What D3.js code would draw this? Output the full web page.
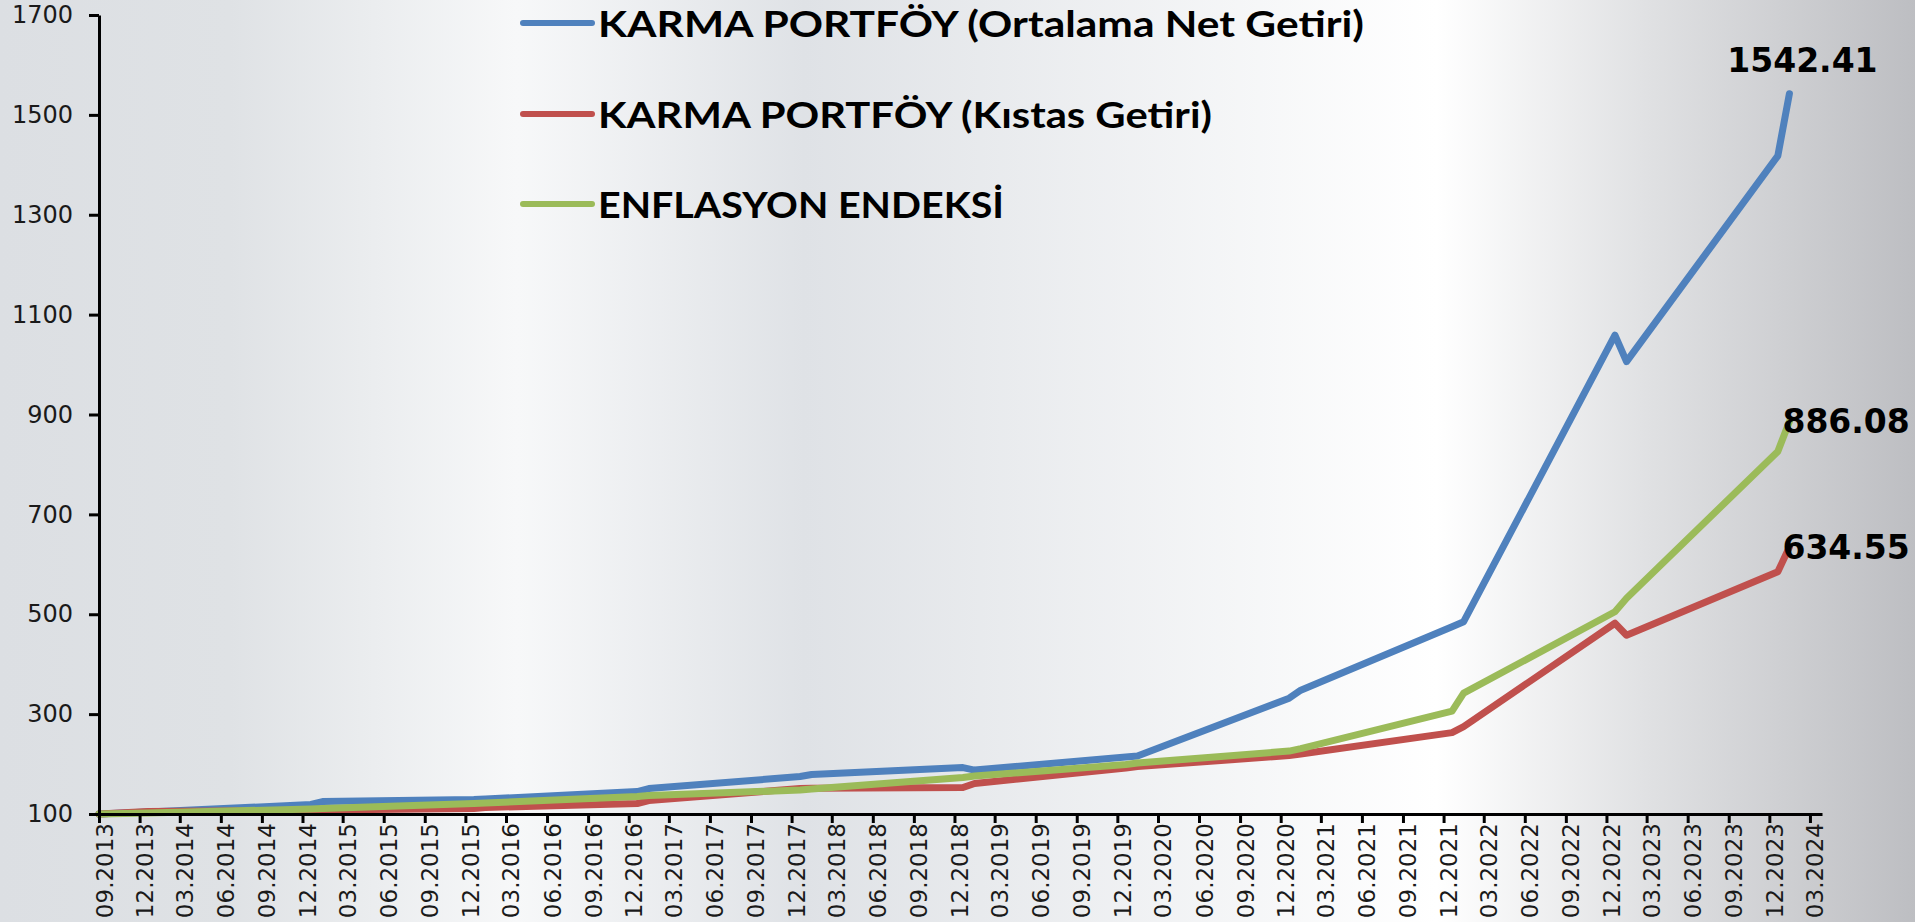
<!DOCTYPE html>
<html>
<head>
<meta charset="utf-8">
<script src="https://cdn.jsdelivr.net/npm/d3@7/dist/d3.min.js"></script>
<style>
  html, body { margin: 0; padding: 0; overflow: hidden; background: #fff; }
  svg { display: block; }
</style>
</head>
<body>
<svg width="1915" height="922"></svg>
<script>
// data
const dates = [
  "2013-09-01", "2013-12-20", "2014-12-20", "2015-01-15", "2015-12-20", "2016-01-15",
  "2016-12-20", "2017-01-15", "2017-12-20", "2018-01-15", "2018-12-20", "2019-01-15",
  "2019-12-20", "2020-01-15", "2020-12-20", "2021-01-15", "2021-12-20", "2022-01-15",
  "2022-12-20", "2023-01-15", "2023-12-20", "2024-01-15"
];
const netReturn = [100, 104, 119, 125, 129, 130, 145, 151, 175, 179, 193, 188,
                   214, 216, 332, 348, 475, 485, 1059, 1006, 1418, 1542.41];
const benchmark = [100, 105, 107, 108, 111, 113, 121, 127, 151, 151.5, 153, 161,
                   192, 195, 217, 220, 263, 275, 482, 458, 585, 634.55];
const inflation = [100, 102, 110, 111, 121, 122, 135, 137, 148, 150, 173, 176,
                   199, 202, 226, 231, 306, 342, 505, 532, 826, 886.08];
const seriesNames = [
  "KARMA PORTFÖY (Ortalama Net Getiri)",
  "KARMA PORTFÖY (Kıstas Getiri)",
  "ENFLASYON ENDEKSİ"
];
const seriesColors = ["#4f81bd", "#c0504d", "#9bbb59"];
const xTickLabels = [
  "09.2013", "12.2013", "03.2014", "06.2014", "09.2014", "12.2014", "03.2015", "06.2015",
  "09.2015", "12.2015", "03.2016", "06.2016", "09.2016", "12.2016", "03.2017", "06.2017",
  "09.2017", "12.2017", "03.2018", "06.2018", "09.2018", "12.2018", "03.2019", "06.2019",
  "09.2019", "12.2019", "03.2020", "06.2020", "09.2020", "12.2020", "03.2021", "06.2021",
  "09.2021", "12.2021", "03.2022", "06.2022", "09.2022", "12.2022", "03.2023", "06.2023",
  "09.2023", "12.2023", "03.2024"
];
const yTicks = [100, 300, 500, 700, 900, 1100, 1300, 1500, 1700];
const axisEnd = "2024-03-28";

const W = 1915, H = 922;
const svg = d3.select("svg");

const parseDay = d3.timeParse("%Y-%m-%d");
const parseTick = d3.timeParse("%m.%Y");

// background
const defs = svg.append("defs");
const grad = defs.append("linearGradient").attr("id", "bg")
  .attr("x1", 0).attr("x2", 1).attr("y1", 0).attr("y2", 0);
[[0, "#dcdfe3"], [0.12, "#dfe2e5"], [0.27, "#f7f8f9"], [0.42, "#dfe2e6"],
 [0.75, "#ffffff"], [0.86, "#e0e1e3"], [1, "#bdbec2"]].forEach(s => {
  grad.append("stop").attr("offset", s[0]).attr("stop-color", s[1]);
});
svg.append("rect").attr("width", W).attr("height", H).attr("fill", "url(#bg)");

const x = d3.scaleTime()
  .domain([parseTick(xTickLabels[0]), parseDay(axisEnd)])
  .range([99, 1822]);
const y = d3.scaleLinear()
  .domain([yTicks[0], yTicks[yTicks.length - 1]])
  .range([814, 15]);

const series = [netReturn, benchmark, inflation].map((vals, i) => ({
  name: seriesNames[i],
  color: seriesColors[i],
  points: vals.map((v, j) => ({ date: parseDay(dates[j]), v: v }))
}));

const line = d3.line().x(d => x(d.date)).y(d => y(d.v));

svg.append("g")
  .selectAll("path")
  .data(series)
  .join("path")
  .attr("d", d => line(d.points))
  .attr("fill", "none")
  .attr("stroke", d => d.color)
  .attr("stroke-width", 7)
  .attr("stroke-linejoin", "round")
  .attr("stroke-linecap", "round");

// axes
const xAxis = d3.axisBottom(x)
  .tickValues(xTickLabels.map(parseTick))
  .tickFormat(d3.timeFormat("%m.%Y"))
  .tickSize(9)
  .tickSizeOuter(0);
const gx = svg.append("g").attr("transform", "translate(0,814)").call(xAxis);
gx.select(".domain").attr("stroke", "#000").attr("stroke-width", 3);
gx.selectAll(".tick line").attr("stroke", "#000").attr("stroke-width", 3);
gx.selectAll(".tick text")
  .attr("transform", "rotate(-90)")
  .attr("x", -9).attr("y", 13).attr("dy", 0)
  .attr("text-anchor", "end")
  .attr("fill", "#1a1a1a")
  .style("font-family", "'DejaVu Sans'")
  .style("font-size", "23px");

const yAxis = d3.axisLeft(y)
  .tickValues(yTicks)
  .tickFormat(d3.format("d"))
  .tickSize(10)
  .tickPadding(16)
  .tickSizeOuter(0);
const gy = svg.append("g").attr("transform", "translate(99,0)").call(yAxis);
gy.select(".domain").attr("stroke", "#000").attr("stroke-width", 3);
gy.selectAll(".tick line").attr("stroke", "#000").attr("stroke-width", 3);
gy.selectAll(".tick text")
  .attr("fill", "#1a1a1a")
  .style("font-family", "'DejaVu Sans'")
  .style("font-size", "24px");

// end-point labels
const lastLabels = svg.append("g")
  .style("font-family", "'DejaVu Sans'")
  .style("font-weight", "bold")
  .style("font-size", "33px")
  .attr("fill", "#000");
series.forEach((s, i) => {
  const p = s.points[s.points.length - 1];
  const t = lastLabels.append("text").text(d3.format(".2f")(p.v));
  if (i === 0) {
    t.attr("x", x(p.date) + 13).attr("y", y(p.v) - 22).attr("text-anchor", "middle");
  } else {
    t.attr("x", x(p.date) - 7).attr("y", y(p.v) + 12).attr("text-anchor", "start");
  }
});

// legend
const legendY = [23, 114, 204];
const legendW = [766, 614, 406];
const legend = svg.append("g")
  .selectAll("g")
  .data(series)
  .join("g")
  .attr("transform", (d, i) => `translate(523,${legendY[i]})`);
legend.append("line")
  .attr("x1", 0).attr("x2", 69)
  .attr("stroke", d => d.color)
  .attr("stroke-width", 6)
  .attr("stroke-linecap", "round");
legend.append("text")
  .attr("x", 75).attr("y", 14)
  .attr("textLength", (d, i) => legendW[i])
  .attr("lengthAdjust", "spacingAndGlyphs")
  .style("font-family", "Lato")
  .style("font-weight", "bold")
  .style("font-size", "37px")
  .attr("fill", "#000")
  .text(d => d.name);
</script>
</body>
</html>
